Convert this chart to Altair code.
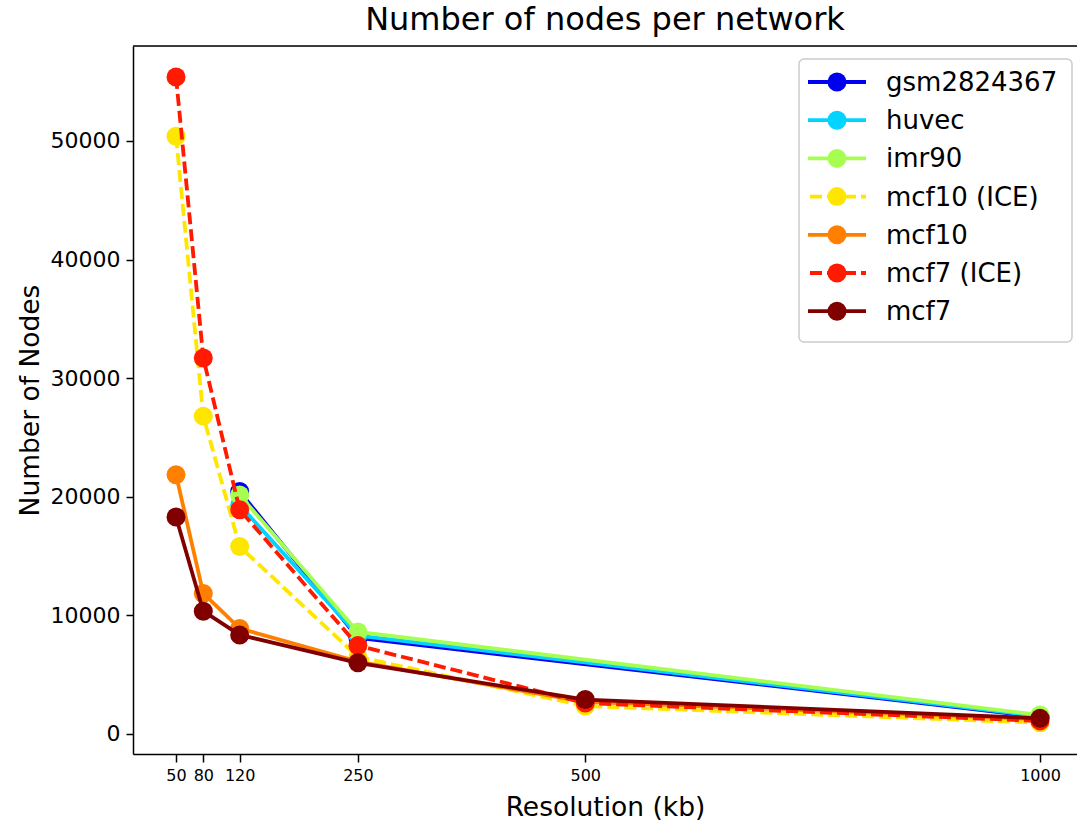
import altair as alt
import pandas as pd

# ---- data ----
series_names = ["gsm2824367", "huvec", "imr90", "mcf10 (ICE)", "mcf10", "mcf7 (ICE)", "mcf7"]
res_short = [120, 250, 1000]
res_full = [50, 80, 120, 250, 500, 1000]
gsm2824367 = [20450, 8100, 1450]
huvec = [19300, 8300, 1500]
imr90 = [20150, 8600, 1600]
mcf10_ice = [50400, 26800, 15800, 6500, 2350, 950]
mcf10 = [21850, 11850, 8900, 6100, 2700, 1250]
mcf7_ice = [55400, 31700, 18900, 7450, 2600, 1100]
mcf7 = [18300, 10350, 8350, 6000, 2900, 1320]
x_ticks = [50, 80, 120, 250, 500, 1000]
y_ticks = [0, 10000, 20000, 30000, 40000, 50000]

series_x = [res_short, res_short, res_short, res_full, res_full, res_full, res_full]
series_y = [gsm2824367, huvec, imr90, mcf10_ice, mcf10, mcf7_ice, mcf7]
colors = ["#0000f0", "#00d4ff", "#a6ff50", "#ffe600", "#ff8000", "#ff1a00", "#800000"]
dashed = [False, False, False, True, False, True, False]

FONT = "DejaVu Sans"
W, H = 944, 708
LW = 3.8
MS = 360
xscale = alt.Scale(domain=[2.7, 1040.7], nice=False, zero=False)
yscale = alt.Scale(domain=[-1690, 58010], nice=False, zero=False)

xaxis = alt.Axis(values=x_ticks, format="d", labelFontSize=16, labelFont=FONT,
                 tickSize=8, tickWidth=1.5, tickColor="black", domainColor="black",
                 domainWidth=1.5, labelColor="black", labelPadding=5, grid=False,
                 title="Resolution (kb)", titleFontSize=26.5, titleFont=FONT,
                 titleFontWeight="normal", titleColor="black", titlePadding=11,
                 labelFlush=False, labelOverlap=False)
yaxis = alt.Axis(values=y_ticks, format="d", labelFontSize=22, labelFont=FONT,
                 tickSize=7, tickWidth=1.5, tickColor="black", domainColor="black",
                 domainWidth=1.5, labelColor="black", labelPadding=6, grid=False,
                 title="Number of Nodes", titleFontSize=26.5, titleFont=FONT,
                 titleFontWeight="normal", titleColor="black", titlePadding=6,
                 labelFlush=False)

layers = []
for i, name in enumerate(series_names):
    df = pd.DataFrame({"res": series_x[i], "nodes": series_y[i]})
    enc = dict(
        x=alt.X("res:Q", scale=xscale, axis=xaxis),
        y=alt.Y("nodes:Q", scale=yscale, axis=yaxis),
    )
    line_kwargs = dict(color=colors[i], strokeWidth=LW, strokeJoin="round")
    if dashed[i]:
        line_kwargs["strokeDash"] = [12, 5]
    layers.append(alt.Chart(df).mark_line(**line_kwargs).encode(**enc))
    layers.append(alt.Chart(df).mark_circle(color=colors[i], size=MS, opacity=1).encode(**enc))

one = pd.DataFrame({"a": [0]})
# top spine
layers.append(alt.Chart(one).mark_rule(color="black", strokeWidth=1.5).encode(
    x=alt.value(0), x2=alt.value(W), y=alt.value(0)))

# legend (manual, matplotlib style)
layers.append(alt.Chart(one).mark_rect(fill="white", stroke="#cccccc", strokeWidth=1.5,
                                       cornerRadius=5).encode(
    x=alt.value(666), x2=alt.value(939), y=alt.value(13), y2=alt.value(296)))
for i, name in enumerate(series_names):
    ly = 36 + i * 38.2
    lk = dict(color=colors[i], strokeWidth=LW)
    if dashed[i]:
        lk["strokeDash"] = [12, 5]
        lk["strokeDashOffset"] = -2
    layers.append(alt.Chart(one).mark_rule(**lk).encode(
        x=alt.value(675), x2=alt.value(733), y=alt.value(ly)))
    layers.append(alt.Chart(one).mark_circle(color=colors[i], size=MS, opacity=1).encode(
        x=alt.value(704), y=alt.value(ly)))
    layers.append(alt.Chart(one).mark_text(align="left", baseline="middle", font=FONT,
                                           fontSize=26, color="black").encode(
        x=alt.value(753), y=alt.value(ly + 1), text=alt.value(name)))

chart = alt.layer(*layers).properties(
    width=W, height=H,
    title=alt.TitleParams("Number of nodes per network", fontSize=32, font=FONT,
                          fontWeight="normal", color="black", anchor="middle", offset=8),
    autosize=alt.AutoSizeParams(type="none"),
    padding={"left": 133, "top": 46, "right": 0, "bottom": 72},
).configure_view(stroke="transparent", strokeWidth=0).configure(background="white")

chart.save("out.html", embed_options={"renderer": "svg", "actions": False})
